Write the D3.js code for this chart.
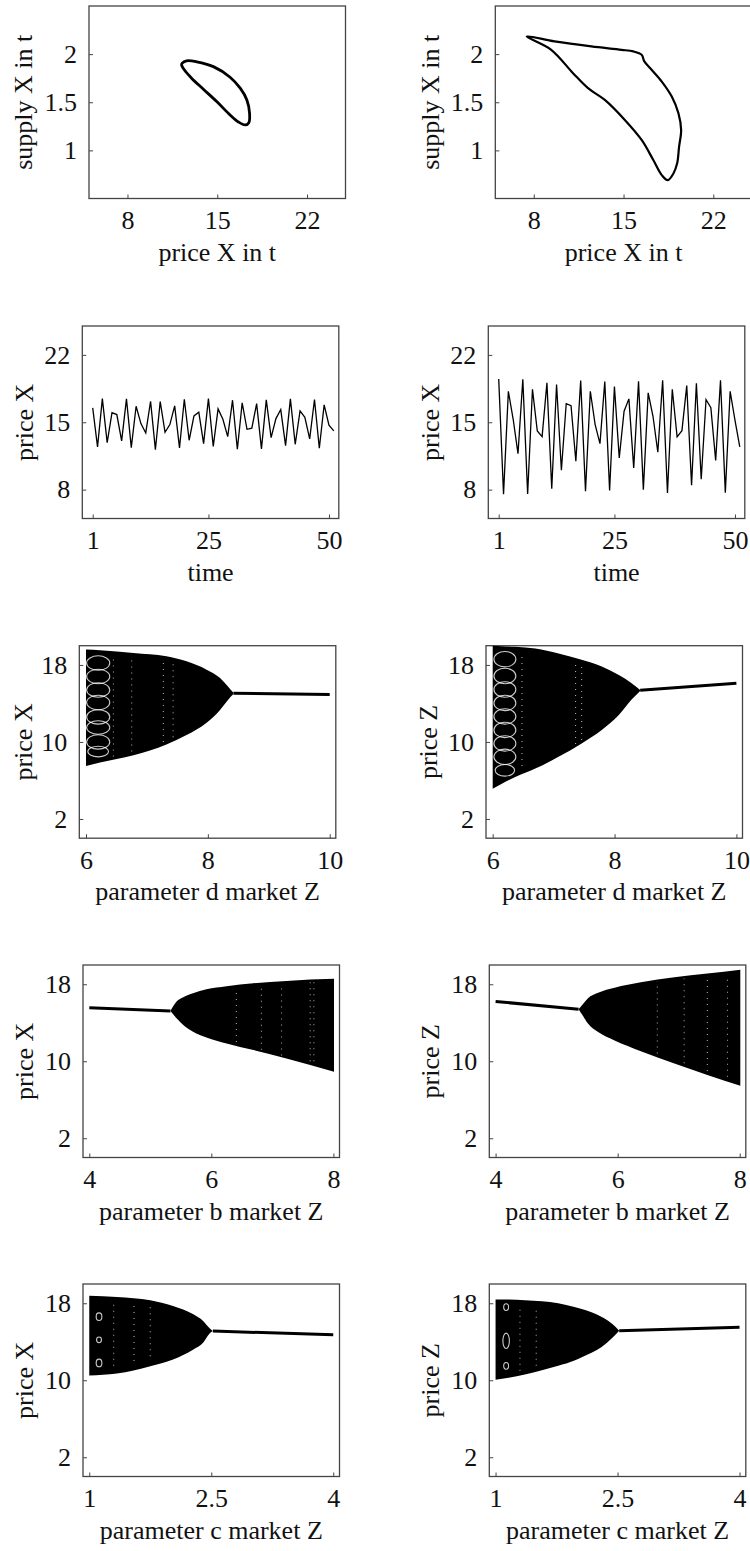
<!DOCTYPE html>
<html>
<head>
<meta charset="utf-8">
<script src="https://cdn.jsdelivr.net/npm/d3@7"></script>
<style>
  body { margin: 0; background: #fff; }
  svg text { font-family: "Liberation Serif", "Times New Roman", serif; font-size: 26px; fill: #111; }
</style>
</head>
<body>
<svg id="chart" width="750" height="1551"></svg>
<script>
// phase portraits, points are [price X in t, supply X in t]
const loopLeft = [[12.27,1.906],[12.61,1.93],[13.4,1.92],[14.7,1.87],[16.0,1.76],[16.79,1.646],[17.31,1.524],
  [17.52,1.385],[17.46,1.288],[17.18,1.264],[16.65,1.295],[16.0,1.368],[14.96,1.507],[13.92,1.635],
  [13.0,1.75],[12.43,1.837],[12.22,1.889]];
const loopRight = [[7.45,2.184],[9.62,2.132],[12.49,2.08],[14.84,2.045],[15.76,2.028],[16.41,1.993],[16.62,1.924],
  [17.19,1.837],[17.98,1.715],[18.76,1.559],[19.28,1.385],[19.49,1.212],[19.33,1.038],[19.18,0.865],
  [18.89,0.76],[18.45,0.69],[17.98,0.743],[17.32,0.9],[16.41,1.108],[15.1,1.316],[13.54,1.524],
  [12.23,1.646],[11.06,1.802],[9.36,2.045]];

// time series of price X, t = 1..51
const priceLeft = [16.49,12.44,17.46,12.89,16.0,15.8,13.06,17.43,12.37,16.66,14.86,13.89,17.18,12.16,17.15,
  13.96,14.76,16.7,12.33,17.39,13.13,15.66,16.04,12.78,17.46,12.5,16.39,15.31,13.51,17.29,12.19,17.01,
  14.27,14.38,16.94,12.23,17.32,13.41,15.38,16.32,12.57,17.43,12.71,16.18,15.52,13.27,17.36,12.3,16.8,
  14.69,14.1];
const priceRight = [19.5,7.52,18.22,15.31,11.74,19.47,7.55,18.43,14.1,13.51,19.09,8.1,18.92,10.01,16.94,
  16.73,10.95,19.33,7.83,18.22,14.76,12.78,19.23,7.9,18.71,11.29,16.14,17.43,10.25,19.26,8.0,18.05,
  15.62,11.88,19.37,7.65,18.43,13.48,14.13,18.81,8.45,19.05,9.07,17.36,16.52,11.02,19.37,7.69,18.22,
  15.21,12.44];

// bifurcation diagrams: envelope of the attractor and the stable fixed point branch
const dParamX = [6.0, 6.23, 6.78, 7.32, 7.65, 7.98, 8.2, 8.33, 8.42];
const dUpperX = [19.6, 19.53, 19.25, 18.9, 18.38, 17.51, 16.64, 15.77, 15.1];
const dLowerX = [7.51, 7.86, 8.62, 9.74, 10.72, 12.0, 13.33, 14.37, 14.98];
const dFixedX = [[8.42, 15.07], [10.0, 14.93]];

const dParamZ = [6.0, 6.15, 6.37, 6.7, 7.08, 7.46, 7.79, 8.07, 8.28, 8.42];
const dUpperZ = [19.99, 19.95, 19.88, 19.7, 19.19, 18.55, 17.85, 16.95, 16.1, 15.4];
const dLowerZ = [5.13, 5.66, 6.36, 7.23, 8.45, 9.85, 11.25, 12.8, 14.4, 15.3];
const dFixedZ = [[8.42, 15.38], [10.0, 16.11]];

const bParamX = [5.33, 5.43, 5.54, 5.7, 5.92, 6.25, 6.69, 7.23, 8.01];
const bUpperX = [15.22, 16.2, 16.65, 17.06, 17.48, 17.8, 18.1, 18.35, 18.56];
const bLowerX = [15.22, 14.46, 13.76, 13.07, 12.48, 11.85, 11.16, 10.29, 8.9];
const bFixedX = [[4.0, 15.57], [5.33, 15.22]];

const bParamZ = [5.36, 5.43, 5.51, 5.68, 5.95, 6.38, 6.93, 7.47, 8.01];
const bUpperZ = [15.41, 15.93, 16.53, 17.12, 17.64, 18.2, 18.72, 19.11, 19.51];
const bLowerZ = [15.41, 14.73, 13.94, 13.03, 12.15, 11.04, 9.76, 8.57, 7.45];
const bFixedZ = [[4.0, 16.21], [5.36, 15.41]];

const cParamX = [1.0, 1.34, 1.75, 2.03, 2.28, 2.4, 2.48, 2.52];
const cUpperX = [18.77, 18.66, 18.31, 17.72, 16.85, 16.16, 15.4, 15.11];
const cLowerX = [10.49, 10.7, 11.46, 12.16, 13.2, 13.9, 14.85, 15.11];
const cFixedX = [[2.52, 15.11], [4.0, 14.73]];

const cParamZ = [1.0, 1.16, 1.36, 1.57, 1.77, 1.97, 2.06, 2.3, 2.44, 2.52];
const cUpperZ = [18.4, 18.38, 18.32, 18.2, 18.0, 17.6, 17.4, 16.6, 15.82, 15.14];
const cLowerZ = [10.06, 10.26, 10.6, 11.05, 11.5, 12.05, 12.4, 13.43, 14.43, 15.14];
const cFixedZ = [[2.52, 15.14], [4.0, 15.5]];

// white periodic-window loops inside the chaotic band: [param, price, half width, half height]
const dLoopsX = [[6.2,18.2,0.19,0.75],[6.2,16.8,0.19,0.75],[6.2,15.4,0.19,0.75],[6.2,14.1,0.19,0.75],
  [6.2,12.6,0.19,0.75],[6.2,11.5,0.19,0.7],[6.2,10.0,0.19,0.75],[6.2,9.0,0.17,0.55]];
const dLoopsZ = [[6.2,18.6,0.18,0.8],[6.2,16.85,0.18,0.8],[6.2,15.45,0.18,0.8],[6.2,14.05,0.18,0.8],
  [6.2,12.65,0.18,0.8],[6.2,11.25,0.18,0.8],[6.2,9.85,0.18,0.8],[6.2,8.45,0.18,0.8],[6.2,7.05,0.16,0.6]];
const cLoopsX = [[1.12,16.6,0.035,0.4],[1.12,14.2,0.03,0.3],[1.12,11.8,0.035,0.4]];
const cLoopsZ = [[1.13,17.6,0.03,0.35],[1.13,14.1,0.04,0.8],[1.13,11.5,0.03,0.35]];

// speckled window columns: [param, low price, high price]
const dWinX = [[6.45, 8.5, 19.0], [6.75, 9.0, 18.8], [7.27, 10.0, 18.5], [7.43, 10.5, 18.3]];
const dWinZ = [[6.48, 7.5, 19.3], [7.36, 9.8, 18.5], [7.46, 10.2, 18.2]];
const bWinX = [[6.41, 12.0, 17.5], [6.82, 11.2, 17.9], [7.15, 10.6, 18.0], [7.62, 10.0, 18.2], [7.68, 10.0, 18.2]];
const bWinZ = [[6.65, 10.8, 18.3], [7.09, 9.8, 18.6], [7.47, 9.0, 18.8], [7.8, 8.4, 19.0]];
const cWinX = [[1.3, 11.5, 18.2], [1.55, 12.0, 18.0], [1.75, 12.5, 17.8]];
const cWinZ = [[1.3, 11.0, 17.8], [1.5, 11.5, 17.6]];

// tick labels
const phaseXTicks = [8, 15, 22];
const phaseYTicks = [1, 1.5, 2];
const timeTicks = [1, 25, 50];
const priceTicks = [8, 15, 22];
const bifYTicks = [2, 10, 18];
const dTicks = [6, 8, 10];
const bTicks = [4, 6, 8];
const cTicks = [1, 2.5, 4];

const svg = d3.select("#chart");
const W = 256.5, H = 192.5;

function panel(left, top, xDomain, yDomain, xTicks, yTicks, xLabel, yLabel, yLabOff) {
  const g = svg.append("g").attr("transform", "translate(" + left + "," + top + ")");
  const x = d3.scaleLinear().domain(xDomain).range([0, W]);
  const y = d3.scaleLinear().domain(yDomain).range([H, 0]);

  const xAxis = d3.axisBottom(x).tickValues(xTicks).tickSize(-4).tickPadding(12).tickFormat(d3.format("~g"));
  const yAxis = d3.axisLeft(y).tickValues(yTicks).tickSize(-4).tickPadding(12).tickFormat(d3.format("~g"));
  g.append("g").attr("transform", "translate(0," + H + ")").call(xAxis);
  g.append("g").call(yAxis);
  g.selectAll(".domain").remove();
  g.selectAll(".tick line").attr("stroke", "#444");

  g.append("rect").attr("width", W).attr("height", H)
    .attr("fill", "none").attr("stroke", "#444").attr("stroke-width", 1.3);

  g.append("text").attr("x", W / 2).attr("y", H + 62)
    .attr("text-anchor", "middle").text(xLabel);
  g.append("text")
    .attr("transform", "translate(" + (-yLabOff) + "," + (H / 2) + ") rotate(-90)")
    .attr("text-anchor", "middle").text(yLabel);

  const plot = g.append("g");
  return { g: plot, x: x, y: y };
}

function drawLoop(p, pts, w) {
  p.g.append("path")
    .attr("d", d3.line().x(d => p.x(d[0])).y(d => p.y(d[1])).curve(d3.curveCatmullRomClosed)(pts))
    .attr("fill", "none").attr("stroke", "#000").attr("stroke-width", w);
}

function drawSeries(p, vals) {
  p.g.append("path")
    .attr("d", d3.line().x((d, i) => p.x(i + 1)).y(d => p.y(d))(vals))
    .attr("fill", "none").attr("stroke", "#000").attr("stroke-width", 1.3)
    .attr("stroke-linejoin", "miter");
}

function drawBif(p, params, upper, lower, fixed, loops, wins) {
  const area = d3.area()
    .x((d, i) => p.x(params[i]))
    .y0((d, i) => p.y(lower[i]))
    .y1((d, i) => p.y(upper[i]))
    .curve(d3.curveMonotoneX);
  p.g.append("path").attr("d", area(params)).attr("fill", "#000");

  // windows show up as dotted white columns
  p.g.selectAll(".win").data(wins).enter().append("line")
    .attr("x1", d => p.x(d[0])).attr("x2", d => p.x(d[0]))
    .attr("y1", d => p.y(d[1])).attr("y2", d => p.y(d[2]))
    .attr("stroke", "#fff").attr("stroke-width", 1.1)
    .attr("stroke-dasharray", "1 5").attr("opacity", 0.65);

  p.g.selectAll(".loop").data(loops).enter().append("ellipse")
    .attr("cx", d => p.x(d[0])).attr("cy", d => p.y(d[1]))
    .attr("rx", d => p.x(d[0] + d[2]) - p.x(d[0]))
    .attr("ry", d => p.y(d[1] - d[3]) - p.y(d[1]))
    .attr("fill", "none").attr("stroke", "#fff").attr("stroke-width", 1.1)
    .attr("opacity", 0.8);

  p.g.append("path")
    .attr("d", d3.line().x(d => p.x(d[0])).y(d => p.y(d[1]))(fixed))
    .attr("fill", "none").attr("stroke", "#000").attr("stroke-width", 3);
}

// row 1
let p = panel(89, 6, [5, 25], [0.5, 2.5], phaseXTicks, phaseYTicks, "price X in t", "supply X in t", 57);
drawLoop(p, loopLeft, 2.8);
p = panel(495.3, 6, [5, 25], [0.5, 2.5], phaseXTicks, phaseYTicks, "price X in t", "supply X in t", 56);
drawLoop(p, loopRight, 2.2);

// row 2
p = panel(82.3, 326, [-1.16, 52.04], [5, 25], timeTicks, priceTicks, "time", "price X", 49);
drawSeries(p, priceLeft);
p = panel(488.3, 326, [-1.16, 52.04], [5, 25], timeTicks, priceTicks, "time", "price X", 49);
drawSeries(p, priceRight);

// row 3
p = panel(79.3, 645.7, [5.89, 10.1], [0, 20], dTicks, bifYTicks, "parameter d market Z", "price X", 47);
drawBif(p, dParamX, dUpperX, dLowerX, dFixedX, dLoopsX, dWinX);
p = panel(486, 645.7, [5.89, 10.1], [0, 20], dTicks, bifYTicks, "parameter d market Z", "price Z", 49);
drawBif(p, dParamZ, dUpperZ, dLowerZ, dFixedZ, dLoopsZ, dWinZ);

// row 4
p = panel(83, 965, [3.897, 8.1], [0, 20], bTicks, bifYTicks, "parameter b market Z", "price X", 50);
drawBif(p, bParamX, bUpperX, bLowerX, bFixedX, [], bWinX);
p = panel(489.3, 965, [3.897, 8.1], [0, 20], bTicks, bifYTicks, "parameter b market Z", "price Z", 50);
drawBif(p, bParamZ, bUpperZ, bLowerZ, bFixedZ, [], bWinZ);

// row 5
p = panel(83, 1284, [0.923, 4.077], [0, 20], cTicks, bifYTicks, "parameter c market Z", "price X", 50);
drawBif(p, cParamX, cUpperX, cLowerX, cFixedX, cLoopsX, cWinX);
p = panel(489.3, 1284, [0.923, 4.077], [0, 20], cTicks, bifYTicks, "parameter c market Z", "price Z", 50);
drawBif(p, cParamZ, cUpperZ, cLowerZ, cFixedZ, cLoopsZ, cWinZ);
</script>
</body>
</html>
